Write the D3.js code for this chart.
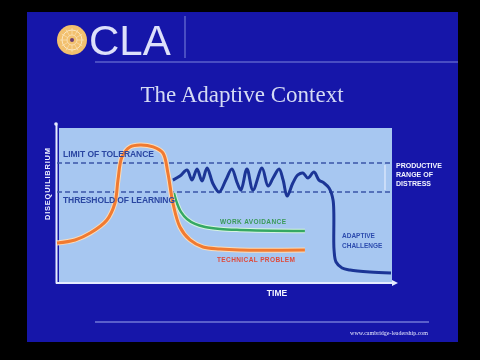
<!DOCTYPE html>
<html>
<head>
<meta charset="utf-8">
<script src="https://cdn.jsdelivr.net/npm/d3@7"></script>
<style>
  body { margin: 0; background: #000; }
  svg { display: block; }
  .lbl { font-family: "Liberation Sans", Arial, sans-serif; font-weight: bold; }
</style>
</head>
<body>
<div id="slide"></div>
<script>
// data (time 0-100, disequilibrium 0-100)
var limitOfTolerance = 77.3;
var thresholdOfLearning = 58.4;

var technicalX = [0, 5.4, 9.9, 14.9, 17.3, 18.2, 19.4, 21.8, 24.8, 28.7, 31.6, 33.1, 34.6, 36.7, 39.7, 43.6, 48.7, 54.6, 74.0];
var technicalY = [25.3, 27.3, 31.8, 40.3, 51.3, 66.2, 81.2, 87.7, 89.0, 87.7, 83.8, 70.8, 51.3, 35.7, 27.3, 22.7, 21.4, 20.8, 20.8];

var avoidanceX = [34.9, 35.8, 37.0, 38.8, 41.2, 44.2, 48.7, 54.6, 74.0];
var avoidanceY = [57.8, 51.3, 45.5, 40.9, 37.7, 35.7, 34.4, 33.8, 33.1];

var adaptiveX = [34.6, 36.7, 38.8, 40.3, 41.8, 43.3, 44.8, 46.6, 48.4, 50.4, 52.2, 53.7, 54.9, 56.7, 58.5, 61.2, 63.0, 64.5, 66.3, 67.5, 68.7, 70.4, 71.9, 73.4, 74.9, 76.7, 78.2, 79.7, 81.2, 82.4, 82.7, 83.3, 85.1, 87.5, 93.4, 99.7];
var adaptiveY = [66.2, 68.8, 72.7, 66.2, 73.4, 65.6, 74.0, 63.6, 58.4, 66.2, 73.4, 64.9, 59.7, 73.4, 59.7, 74.0, 62.3, 67.5, 73.4, 66.2, 55.8, 64.3, 69.5, 70.8, 67.5, 71.4, 66.2, 64.3, 61.0, 53.2, 20.8, 13.0, 9.1, 7.8, 6.5, 5.8];

var distressLabel = ["PRODUCTIVE", "RANGE OF", "DISTRESS"];
var challengeLabel = ["ADAPTIVE", "CHALLENGE"];

var W = 480, H = 360;

var svg = d3.select("#slide")
  .append("svg")
    .attr("width", W)
    .attr("height", H);

// soften a little, it is a photo of a projected slide
svg.append("defs").append("filter")
    .attr("id", "soft")
  .append("feGaussianBlur")
    .attr("stdDeviation", 0.45);

svg.append("rect").attr("width", W).attr("height", H).attr("fill", "#000");

var g = svg.append("g").attr("filter", "url(#soft)");

g.append("rect")
  .attr("x", 27).attr("y", 12)
  .attr("width", 431).attr("height", 330)
  .attr("fill", "#1717a9");

// logo
var logo = g.append("g").attr("transform", "translate(72,40)");
logo.append("circle").attr("r", 15).attr("fill", "#f2c06e");
logo.append("circle").attr("r", 10).attr("fill", "none").attr("stroke", "#fbe6c0").attr("stroke-width", 1);
logo.append("circle").attr("r", 5).attr("fill", "none").attr("stroke", "#fbe6c0").attr("stroke-width", 0.8);
d3.range(12).forEach(function(i) {
  var a = i * Math.PI / 6;
  logo.append("line")
    .attr("x1", Math.cos(a) * 5).attr("y1", Math.sin(a) * 5)
    .attr("x2", Math.cos(a) * 12).attr("y2", Math.sin(a) * 12)
    .attr("stroke", "#fbe6c0").attr("stroke-width", 0.6);
});
logo.append("circle").attr("r", 2).attr("fill", "#6a3a70");

g.append("text")
  .attr("x", 89).attr("y", 55)
  .attr("font-family", "Liberation Sans, Arial, sans-serif")
  .attr("font-size", 42)
  .attr("fill", "#dde0fa")
  .text("CLA");

g.append("line").attr("x1", 185).attr("x2", 185).attr("y1", 16).attr("y2", 58)
  .attr("stroke", "#7f86dc").attr("stroke-width", 1);
g.append("line").attr("x1", 95).attr("x2", 458).attr("y1", 62).attr("y2", 62)
  .attr("stroke", "#7f86dc").attr("stroke-width", 1);

// title
g.append("text")
  .attr("x", 242).attr("y", 102)
  .attr("text-anchor", "middle")
  .attr("font-family", "Liberation Serif, Times New Roman, serif")
  .attr("font-size", 23)
  .attr("fill", "#d4daf4")
  .text("The Adaptive Context");

// scales
var x = d3.scaleLinear().domain([0, 100]).range([57, 392]);
var y = d3.scaleLinear().domain([0, 100]).range([282, 128]);

// plot panel
g.append("rect")
  .attr("x", 59).attr("y", 128)
  .attr("width", 392 - 59).attr("height", 282 - 128)
  .attr("fill", "#a7c7f1");

// axes
var xAxis = g.append("g")
  .attr("transform", "translate(0,283)")
  .call(d3.axisBottom(x).ticks(0).tickSizeOuter(0));
var yAxis = g.append("g")
  .attr("transform", "translate(56,0)")
  .call(d3.axisLeft(y.copy().range([283, 124])).ticks(0).tickSizeOuter(0));
g.selectAll(".domain").attr("stroke", "#e6ecff").attr("stroke-width", 2);
xAxis.select(".domain").attr("d", "M56,0H395");
g.append("path").attr("d", "M392,280L398,283L392,286Z").attr("fill", "#e6ecff");
g.append("circle").attr("cx", 56).attr("cy", 124).attr("r", 1.8).attr("fill", "#e6ecff");

// dashed reference lines
[limitOfTolerance, thresholdOfLearning].forEach(function(v) {
  g.append("line")
    .attr("x1", x(0)).attr("x2", x(100))
    .attr("y1", y(v)).attr("y2", y(v))
    .attr("stroke", "#3a56a8")
    .attr("stroke-width", 1.5)
    .attr("stroke-dasharray", "5,3");
});

// productive range bracket
g.append("line")
  .attr("x1", 385).attr("x2", 385)
  .attr("y1", y(limitOfTolerance) + 2).attr("y2", y(thresholdOfLearning) - 2)
  .attr("stroke", "#eef2ff").attr("stroke-width", 1);

// curves
var line = d3.line()
  .x(function(d) { return x(d[0]); })
  .y(function(d) { return y(d[1]); })
  .curve(d3.curveCatmullRom.alpha(0.5));

function drawCurve(xs, ys, color, glow, w) {
  var pts = xs.map(function(v, i) { return [v, ys[i]]; });
  if (glow) {
    g.append("path").datum(pts).attr("d", line)
      .attr("fill", "none").attr("stroke", glow)
      .attr("stroke-width", w + 2).attr("stroke-linejoin", "round");
  }
  g.append("path").datum(pts).attr("d", line)
    .attr("fill", "none").attr("stroke", color)
    .attr("stroke-width", w).attr("stroke-linejoin", "round");
}

drawCurve(avoidanceX, avoidanceY, "#34a864", "#d6f4e0", 2.5);
drawCurve(technicalX, technicalY, "#f07a30", "#fcdcb8", 3);
drawCurve(adaptiveX, adaptiveY, "#1a3596", null, 3);

// labels
g.append("text").attr("class", "lbl")
  .attr("x", 63).attr("y", 157)
  .attr("font-size", 8.5).attr("textLength", 91)
  .attr("fill", "#2a46a2")
  .text("LIMIT OF TOLERANCE");

g.append("text").attr("class", "lbl")
  .attr("x", 63).attr("y", 203)
  .attr("font-size", 8.5).attr("textLength", 112)
  .attr("fill", "#2a46a2")
  .text("THRESHOLD OF LEARNING");

g.append("text").attr("class", "lbl")
  .attr("transform", "translate(50,184) rotate(-90)")
  .attr("text-anchor", "middle")
  .attr("font-size", 7.5).attr("textLength", 72)
  .attr("fill", "#eef0ff")
  .text("DISEQUILIBRIUM");

g.append("text").attr("class", "lbl")
  .attr("x", 220).attr("y", 224)
  .attr("font-size", 6.5).attr("textLength", 66)
  .attr("fill", "#3a9a58")
  .text("WORK AVOIDANCE");

g.append("text").attr("class", "lbl")
  .attr("x", 217).attr("y", 262)
  .attr("font-size", 6.5).attr("textLength", 78)
  .attr("fill", "#e04a3a")
  .text("TECHNICAL PROBLEM");

challengeLabel.forEach(function(t, i) {
  g.append("text").attr("class", "lbl")
    .attr("x", 342).attr("y", 238 + i * 10)
    .attr("font-size", 6.5)
    .attr("fill", "#2d4cae")
    .text(t);
});

distressLabel.forEach(function(t, i) {
  g.append("text").attr("class", "lbl")
    .attr("x", 396).attr("y", 168 + i * 9)
    .attr("font-size", 7)
    .attr("fill", "#f2f4ff")
    .text(t);
});

g.append("text").attr("class", "lbl")
  .attr("x", 277).attr("y", 296)
  .attr("text-anchor", "middle")
  .attr("font-size", 8.5)
  .attr("fill", "#f2f4ff")
  .text("TIME");

// footer
g.append("line").attr("x1", 95).attr("x2", 429).attr("y1", 322).attr("y2", 322)
  .attr("stroke", "#9ea6ee").attr("stroke-width", 1);
g.append("text")
  .attr("x", 428).attr("y", 335)
  .attr("text-anchor", "end")
  .attr("font-family", "Liberation Serif, serif")
  .attr("font-size", 6)
  .attr("fill", "#e8eaff")
  .text("www.cambridge-leadership.com");
</script>
</body>
</html>
